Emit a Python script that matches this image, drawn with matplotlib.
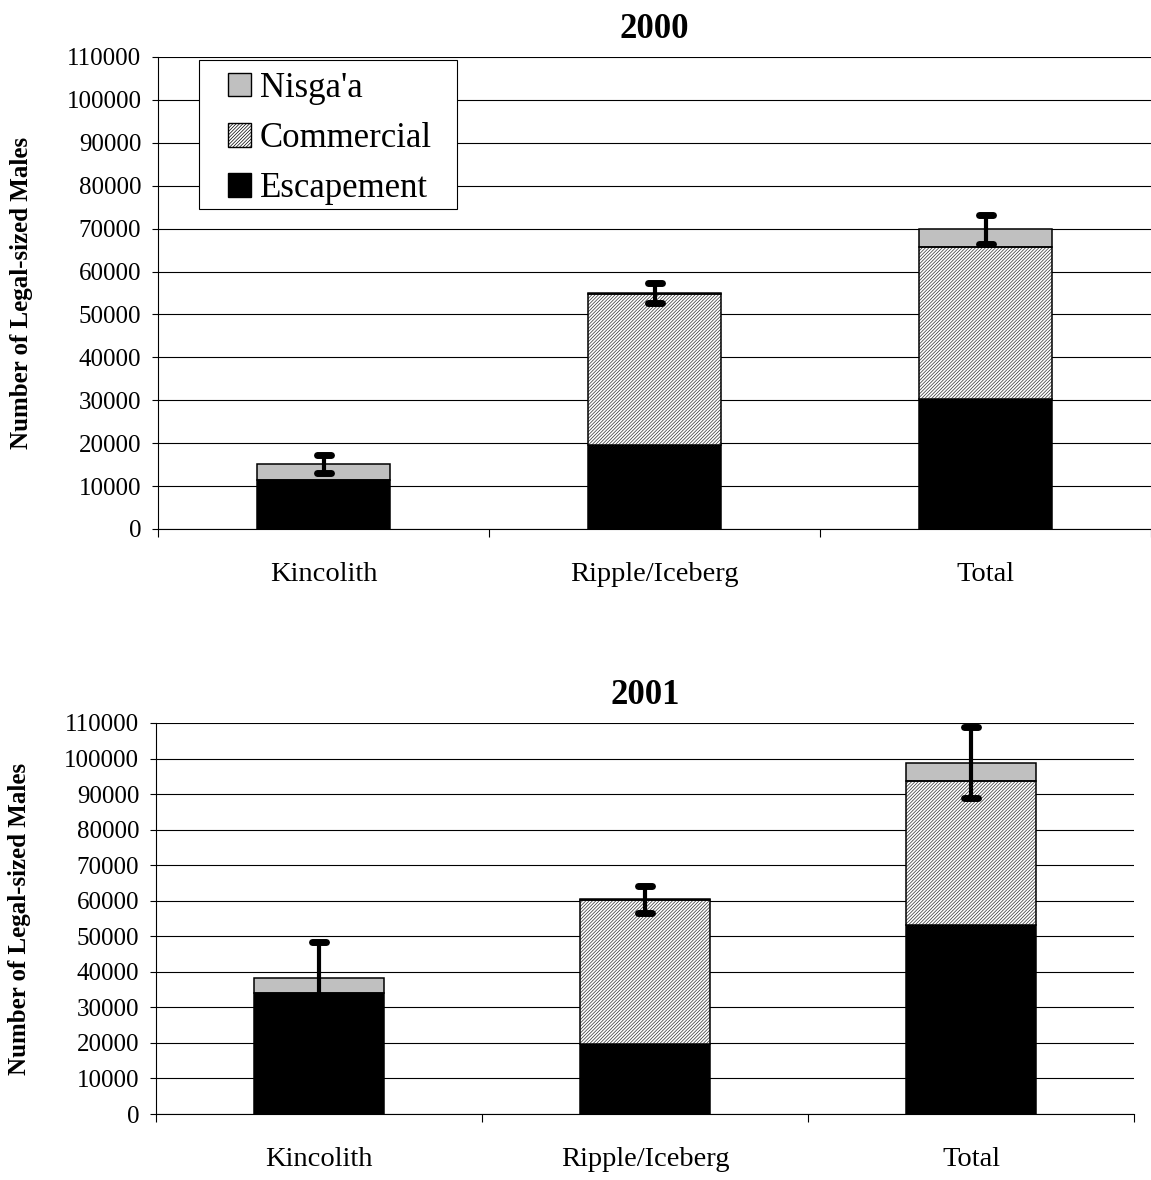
import matplotlib
matplotlib.use("Agg")
import matplotlib.pyplot as plt
from matplotlib.markers import MarkerStyle
from matplotlib.patches import Patch, Rectangle
import numpy as np

plt.rcParams['font.family'] = ['Liberation Serif', 'DejaVu Serif']
plt.rcParams['hatch.linewidth'] = 0.5

categories = ["Kincolith", "Ripple/Iceberg", "Total"]
series_names = ["Nisga'a", "Commercial", "Escapement"]

# 2000 run
escapement_2000 = [11400, 19600, 30400]
commercial_2000 = [0, 35200, 35400]
nisgaa_2000 = [3700, 200, 4000]
error_2000 = [2100, 2300, 3300]

# 2001 run
escapement_2001 = [34000, 19800, 53200]
commercial_2001 = [0, 40300, 40600]
nisgaa_2001 = [4200, 300, 5000]
error_2001 = [10300, 3800, 10000]

yticks = list(range(0, 110001, 10000))

fig = plt.figure(figsize=(11.51, 11.80), dpi=100)
ax_top = fig.add_axes([0.1373, 0.5517, 0.8627, 0.4000])
ax_bot = fig.add_axes([0.1355, 0.0559, 0.8497, 0.3314])

NIS_COLOR = "#c0c0c0"
HATCH_COLOR = "#303030"
HATCH = "//////////"
BAR_W = 0.4


def draw_panel(ax, title, esc, com, nis, err, legend=False):
    x = np.arange(len(categories))
    esc = np.array(esc, dtype=float)
    com = np.array(com, dtype=float)
    nis = np.array(nis, dtype=float)
    total = esc + com + nis

    ax.set_axisbelow(True)
    ax.yaxis.grid(True, color="black", linewidth=0.8)

    ax.bar(x, esc, BAR_W, color="black", edgecolor="black", linewidth=1.1, zorder=2)
    # hatched fill drawn with grey hatch lines, outline added separately
    ax.bar(x, com, BAR_W, bottom=esc, color="white", edgecolor=HATCH_COLOR,
           hatch=HATCH, linewidth=0, zorder=2)
    ax.bar(x, com, BAR_W, bottom=esc, fill=False, edgecolor="black", linewidth=1.1, zorder=2.1)
    ax.bar(x, nis, BAR_W, bottom=esc + com, color=NIS_COLOR, edgecolor="black",
           linewidth=1.1, zorder=2)

    _, caps, _ = ax.errorbar(x, total, yerr=err, fmt="none", ecolor="black",
                             elinewidth=3.0, capsize=5, capthick=5, zorder=3)
    for c in caps:
        c.set_marker(MarkerStyle("_", capstyle="round"))

    ax.set_xlim(-0.5, len(categories) - 0.5)
    ax.set_ylim(0, 110000)
    ax.set_yticks(yticks)
    ax.set_yticklabels([str(v) for v in yticks])
    ax.set_xticks(x)
    ax.set_xticklabels(categories)
    ax.set_xticks(np.arange(len(categories) + 1) - 0.5, minor=True)
    ax.tick_params(axis="x", which="major", length=0, pad=24, labelsize=20.5)
    ax.tick_params(axis="x", which="minor", length=6, width=0.8, direction="out")
    ax.tick_params(axis="y", which="major", length=4, width=0.8, direction="out",
                   pad=8, labelsize=18)

    for side in ("top", "right"):
        ax.spines[side].set_visible(False)
    for side in ("left", "bottom"):
        ax.spines[side].set_linewidth(0.8)

    ax.set_title(title, fontsize=25, fontweight="bold", pad=14)
    ax.set_ylabel("Number of Legal-sized Males", fontsize=18, fontweight="bold", labelpad=24)

    if legend:
        handles = [
            Patch(facecolor=NIS_COLOR, edgecolor="black", linewidth=1.0),
            Patch(facecolor="white", edgecolor="black", hatch=HATCH, linewidth=1.0),
            Patch(facecolor="black", edgecolor="black", linewidth=1.0),
        ]
        # legend frame as a separate box
        ax.add_patch(Rectangle((0.0413, 0.678), 0.2598, 0.3156, transform=ax.transAxes,
                               facecolor="white", edgecolor="black", linewidth=0.8,
                               zorder=4, clip_on=False))
        leg = ax.legend(handles, series_names, loc="upper left",
                        bbox_to_anchor=(0.0705, 0.969), borderaxespad=0, borderpad=0,
                        fontsize=25, frameon=False, handlelength=0.66, handleheight=0.66,
                        handletextpad=0.25, labelspacing=0.5)
        leg.set_zorder(5)


draw_panel(ax_top, "2000", escapement_2000, commercial_2000, nisgaa_2000, error_2000, legend=True)
draw_panel(ax_bot, "2001", escapement_2001, commercial_2001, nisgaa_2001, error_2001)

fig.savefig("out.png", dpi=100)
